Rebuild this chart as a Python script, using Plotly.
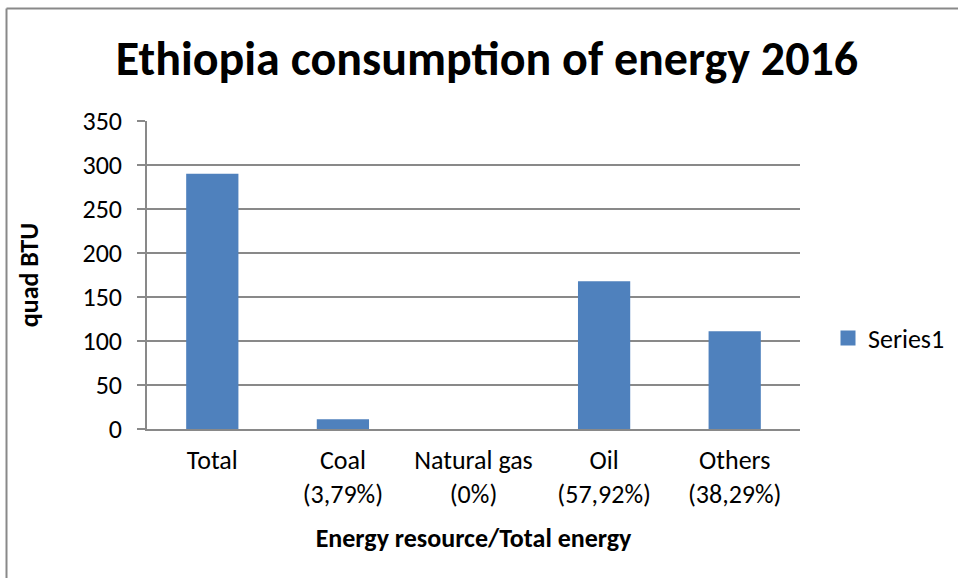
import plotly.graph_objects as go

categories = ["Total", "Coal<br>(3,79%)", "Natural gas<br>(0%)", "Oil<br>(57,92%)", "Others<br>(38,29%)"]
values = [290, 11, 0, 168, 111]
y_ticks = [0, 50, 100, 150, 200, 250, 300, 350]

FONT = "Carlito, Calibri, Open Sans, sans-serif"
GRID = "#898989"
BAR = "#4F81BD"

fig = go.Figure()
fig.add_trace(go.Bar(
    x=categories, y=values, name="Series1", showlegend=False,
    marker=dict(color=BAR, line=dict(width=0)),
))
fig.add_trace(go.Scatter(
    x=[None], y=[None], mode="markers", name="Series1",
    marker=dict(symbol="square", size=15, color=BAR),
))

L, R, T, B = 147, 158, 121, 149
W, H = 958, 578
pw, ph = W - L - R, H - T - B
bx = (6.5 - L) / pw
by = (H - B - 8.5) / ph

fig.update_layout(
    width=W, height=H,
    margin=dict(l=L, r=R, t=T, b=B, pad=0, autoexpand=False),
    paper_bgcolor="white", plot_bgcolor="white",
    font=dict(family=FONT, size=26, color="#000000"),
    title=dict(text="<b>Ethiopia consumption of energy 2016</b>", x=487 / W, xanchor="center",
               y=1 - 58 / H, yanchor="middle", font=dict(size=48, family=FONT)),
    bargap=0.6,
    showlegend=True,
    legend=dict(x=(828 - L) / pw, y=(429 - 338) / ph, xanchor="left", yanchor="middle",
                font=dict(size=26, family=FONT), itemwidth=30, bgcolor="rgba(0,0,0,0)"),
    xaxis=dict(
        showline=True, linecolor=GRID, linewidth=1.5, ticks="", showgrid=False,
        tickfont=dict(size=26), ticklabelstandoff=7,
        title=dict(text="<b>Energy resource/Total energy</b>", font=dict(size=26), standoff=20),
    ),
    yaxis=dict(
        range=[0, 350], tickvals=y_ticks, showline=True, linecolor=GRID, linewidth=1.5,
        showgrid=True, gridcolor=GRID, gridwidth=1.5, ticks="outside", ticklen=8,
        tickcolor=GRID, tickwidth=1.5, tickfont=dict(size=26), zeroline=False,
        ticklabelstandoff=10,
        title=dict(text="<b>quad BTU</b>", font=dict(size=26), standoff=36),
    ),
    shapes=[
        dict(type="line", xref="paper", yref="paper", x0=bx, x1=bx, y0=-1, y1=by,
             line=dict(color=GRID, width=2)),
        dict(type="line", xref="paper", yref="paper", x0=bx, x1=2, y0=by, y1=by,
             line=dict(color=GRID, width=2)),
    ],
)

fig.write_html("out.html")
